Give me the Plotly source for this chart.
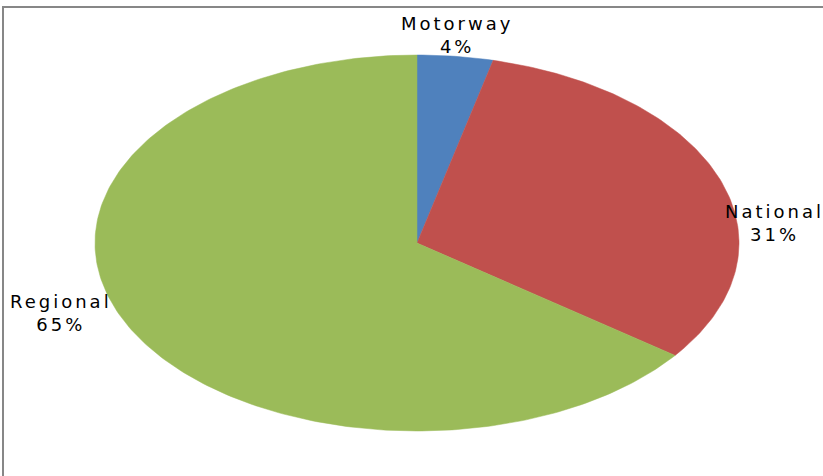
import numpy as np
import plotly.graph_objs as go

# ---------- Data ----------
categories = ["Motorway", "National", "Regional"]
shares = [3.8, 31.4, 64.8]          # percent of total
pct_labels = ["4%", "31%", "65%"]
colors = ["#4F81BD", "#C0504D", "#9BBB59"]

# label anchor points (pixel space) for each category
label_pos = [(457, 35), (774, 223), (61, 313)]

# ---------- Ellipse geometry (pixel space) ----------
W, H = 823, 476
cx, cy, rx, ry = 417, 243, 322, 188

fig = go.Figure()
total = sum(shares)
start = 0.0
for cat, val, col in zip(categories, shares, colors):
    a0 = start / total * 2 * np.pi
    a1 = (start + val) / total * 2 * np.pi
    t = np.linspace(a0, a1, max(int(val * 4), 8))
    xs = np.concatenate([[cx], cx + rx * np.sin(t), [cx]])
    ys = np.concatenate([[cy], cy - ry * np.cos(t), [cy]])
    fig.add_trace(
        go.Scatter(
            x=xs, y=ys, mode="lines", fill="toself",
            fillcolor=col, line=dict(color=col, width=0.5),
            name=cat, hoverinfo="name", showlegend=False,
        )
    )
    start += val

for cat, pct, (lx, ly) in zip(categories, pct_labels, label_pos):
    fig.add_annotation(
        x=lx, y=ly, text=f"{cat}<br>{pct}", showarrow=False,
        font=dict(family="DejaVu Sans", size=18, color="#000000"),
        align="center", xanchor="center", yanchor="middle",
    )

# chart-area frame (top and left edges visible)
fig.add_shape(type="rect", xref="x", yref="y", x0=3, y0=7, x1=W + 20, y1=H + 20,
              line=dict(color="#878787", width=2), layer="below")

fig.update_layout(
    width=W, height=H,
    margin=dict(l=0, r=0, t=0, b=0),
    paper_bgcolor="white", plot_bgcolor="white",
    xaxis=dict(range=[0, W], visible=False, fixedrange=True),
    yaxis=dict(range=[H, 0], visible=False, fixedrange=True),
    showlegend=False,
)

# page tweaks: no body margin, wide letter spacing on the data labels
post = """
function tweak() {
  document.body.style.margin = '0';
  document.body.style.overflow = 'hidden';
  document.querySelectorAll('.annotation-text').forEach(function (e) {
    e.style.letterSpacing = '3px';
  });
}
tweak();
setTimeout(tweak, 30);
"""

fig.write_html("out.html", post_script=post, config={"displayModeBar": False})
